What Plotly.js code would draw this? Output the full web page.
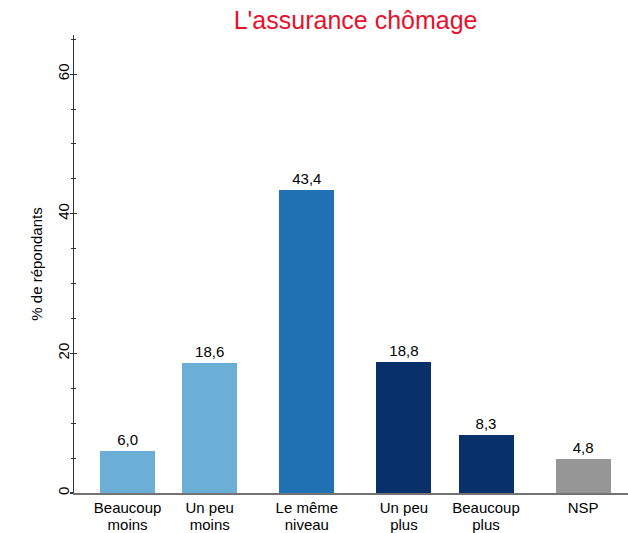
<!DOCTYPE html>
<html>
<head>
<meta charset="utf-8">
<script src="https://cdn.plot.ly/plotly-3.0.1.min.js"></script>
<style>html,body{margin:0;padding:0;background:#fff;}#chart{width:628px;height:533px;}</style>
</head>
<body>
<div id="chart"></div>
<script>
// ---- data ----
const categories = ["Beaucoup moins", "Un peu moins", "Le même niveau", "Un peu plus", "Beaucoup plus", "NSP"];
const labelLine1 = ["Beaucoup", "Un peu", "Le même", "Un peu", "Beaucoup", "NSP"];
const labelLine2 = ["moins", "moins", "niveau", "plus", "plus", ""];
const values = [6.0, 18.6, 43.4, 18.8, 8.3, 4.8];
const valueLabels = ["6,0", "18,6", "43,4", "18,8", "8,3", "4,8"];
const groups = [0, 0, 1, 2, 2, 3];
const yTickVals = [0, 20, 40, 60];
const yTickText = ["0", "20", "40", "60"];
const titleText = "L'assurance chômage";
const yTitleText = "% de répondants";

// ---- styles / layout ----
const barColors = ["#6baed6", "#6baed6", "#2171b5", "#08306b", "#08306b", "#969696"];
const groupGap = 0.1827;
const positions = categories.map((c, i) => i + groups[i] * groupGap);
const FONT = "Liberation Sans, Arial, Helvetica, sans-serif";

const trace = {
  type: "bar",
  x: positions,
  y: values,
  text: valueLabels,
  textposition: "outside",
  texttemplate: "%{text}",
  textfont: {family: FONT, size: 15, color: "#000"},
  constraintext: "none",
  cliponaxis: false,
  width: 0.67,
  marker: {color: barColors, line: {width: 0}},
  hoverinfo: "skip",
  showlegend: false
};

const xRange = [-0.653, 6.095];
const yRange = [0, 65.6];

const layout = {
  width: 628, height: 533,
  margin: {l: 74, r: 0, t: 35, b: 40, pad: 0},
  paper_bgcolor: "#fff", plot_bgcolor: "#fff",
  font: {family: FONT, size: 15, color: "#000"},
  title: {
    text: titleText,
    font: {family: FONT, size: 25, color: "#e8112d"},
    xref: "container", x: 355.6 / 628, xanchor: "center",
    yref: "container", y: 1 - 20 / 533, yanchor: "middle"
  },
  xaxis: {
    range: xRange, fixedrange: true,
    tickvals: positions, ticktext: labelLine1,
    ticks: "", showgrid: false, zeroline: false,
    showline: true, linecolor: "rgba(0,0,0,0.55)", linewidth: 1.5,
    tickfont: {family: FONT, size: 15, color: "#000"},
    ticklabelstandoff: 0
  },
  xaxis2: {
    overlaying: "x", anchor: "y", side: "bottom", matches: "x",
    range: xRange, fixedrange: true,
    tickvals: positions, ticktext: labelLine2,
    ticks: "", showgrid: false, zeroline: false, showline: false,
    tickfont: {family: FONT, size: 15, color: "#000"},
    ticklabelstandoff: 21
  },
  yaxis: {
    range: yRange, fixedrange: true,
    tickvals: yTickVals, ticktext: yTickText,
    tickangle: -90,
    ticks: "outside", ticklen: 3, tickwidth: 1.2, tickcolor: "#333",
    minor: {dtick: 5, ticks: "outside", ticklen: 2, tickwidth: 1, tickcolor: "#333", showgrid: false},
    showgrid: false, zeroline: false,
    showline: true, linecolor: "#333", linewidth: 1.5,
    tickfont: {family: FONT, size: 15, color: "#000"},
    ticklabelstandoff: -5,
    title: {text: yTitleText, font: {family: FONT, size: 15, color: "#000"}, standoff: 8}
  },
  yaxis2: {
    overlaying: "y", anchor: "x", side: "left", matches: "y",
    range: yRange, fixedrange: true,
    tickvals: yTickVals, showticklabels: false,
    ticks: "inside", ticklen: 3, tickwidth: 1.2, tickcolor: "#333",
    minor: {dtick: 5, ticks: "inside", ticklen: 2, tickwidth: 1, tickcolor: "#333", showgrid: false},
    showgrid: false, zeroline: false, showline: false
  },
  bargap: 0
};

const dummy = {type: "scatter", x: [xRange[0]], y: [0], xaxis: "x2", yaxis: "y2",
  mode: "markers", marker: {opacity: 0}, hoverinfo: "skip", showlegend: false};

Plotly.newPlot("chart", [trace, dummy], layout, {staticPlot: true, displayModeBar: false});
</script>
</body>
</html>
